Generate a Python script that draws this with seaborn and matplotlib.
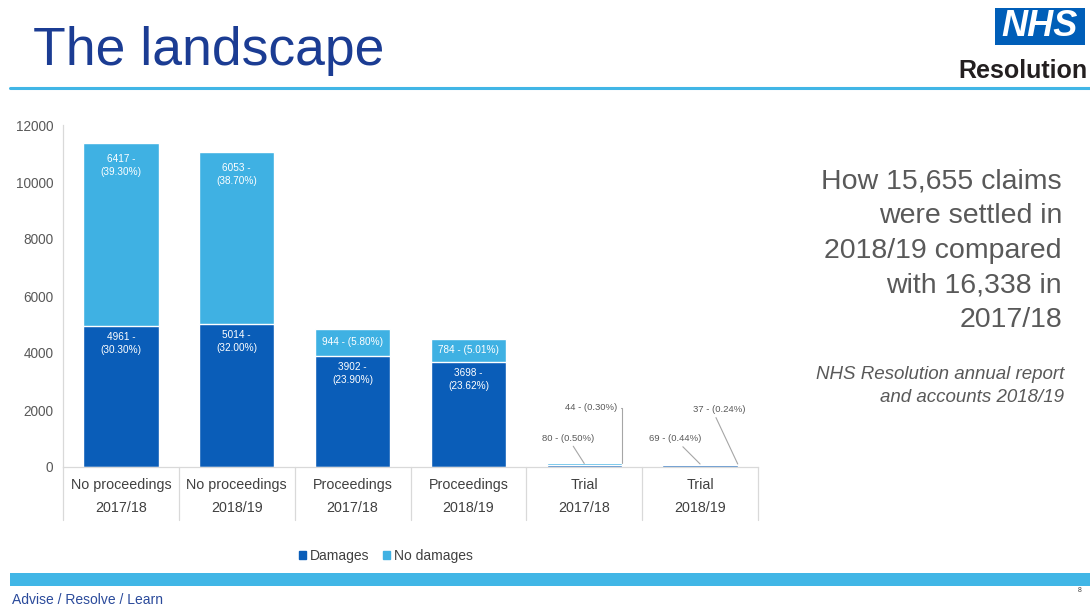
import matplotlib
matplotlib.use("Agg")
import matplotlib.pyplot as plt
from matplotlib.patches import Rectangle, Patch
from matplotlib.lines import Line2D
import numpy as np
import seaborn as sns

# ---------------- data ----------------
categories = ["No proceedings", "No proceedings", "Proceedings", "Proceedings", "Trial", "Trial"]
years = ["2017/18", "2018/19", "2017/18", "2018/19", "2017/18", "2018/19"]
damages = [4961, 5014, 3902, 3698, 80, 69]
no_damages = [6417, 6053, 944, 784, 44, 37]
damages_pct = [30.30, 32.00, 23.90, 23.62, 0.50, 0.44]
no_damages_pct = [39.30, 38.70, 5.80, 5.01, 0.30, 0.24]
y_ticks = [0, 2000, 4000, 6000, 8000, 10000, 12000]

DARK = "#0A5DB8"
LIGHT = "#3FB1E3"
GREY_TXT = "#595959"

sns.set_style("white")
plt.rcParams["font.family"] = ["Liberation Sans", "DejaVu Sans"]

fig = plt.figure(figsize=(10.9, 6.08), dpi=100)
fig.patch.set_facecolor("white")
ax = fig.add_axes([63 / 1090, 141 / 608, 695 / 1090, 342 / 608])

labels = [f"{c}\n{y}" for c, y in zip(categories, years)]
totals = [d + n for d, n in zip(damages, no_damages)]
n = len(labels)

sns.barplot(x=labels, y=totals, color=LIGHT, saturation=1, width=0.65, ax=ax)
sns.barplot(x=labels, y=damages, color=DARK, saturation=1, width=0.65, ax=ax)

ax.set_xlim(-0.5, n - 0.5)
ax.set_ylim(0, 12000)
ax.set_yticks(y_ticks)
ax.set_yticklabels([str(t) for t in y_ticks])
ax.tick_params(axis="y", length=0, pad=7, labelsize=9.8, labelcolor=GREY_TXT)
ax.tick_params(axis="x", length=0, pad=8, labelsize=10.3, labelcolor="#404040")
for t in ax.get_xticklabels():
    t.set_linespacing(1.8)
ax.set_xlabel("")
ax.set_ylabel("")
for s in ["top", "right"]:
    ax.spines[s].set_visible(False)
for s in ["left", "bottom"]:
    ax.spines[s].set_color("#D9D9D9")
    ax.spines[s].set_linewidth(0.9)

# category separators below axis
for b in np.arange(-0.5, n, 1.0):
    ax.plot([b, b], [0, -0.155], transform=ax.get_xaxis_transform(),
            color="#D9D9D9", lw=0.9, clip_on=False)

# bar labels (white, inside bars) for the first four bars
bw = 0.65
LBL = 7.2
for i in range(4):
    ax.annotate(f"{damages[i]} -\n({damages_pct[i]:.2f}%)", xy=(i, damages[i]),
                xytext=(0, -4.5), textcoords="offset points", ha="center", va="top",
                fontsize=LBL, color="white", linespacing=1.35)
    if no_damages[i] > 2000:
        ax.annotate(f"{no_damages[i]} -\n({no_damages_pct[i]:.2f}%)", xy=(i, totals[i]),
                    xytext=(0, -8), textcoords="offset points", ha="center", va="top",
                    fontsize=LBL, color="white", linespacing=1.35)
    else:
        ax.annotate(f"{no_damages[i]} - ({no_damages_pct[i]:.2f}%)",
                    xy=(i, damages[i] + no_damages[i] / 2), ha="center", va="center",
                    fontsize=LBL, color="white")

# Trial labels with leader lines
line_kw = dict(arrowstyle="-", color="#A6A6A6", lw=0.8, shrinkA=0, shrinkB=0)
for i in (4, 5):
    dx = -11.5 if i == 4 else -18
    ax.annotate(f"{damages[i]} - ({damages_pct[i]:.2f}%)", xy=(i, totals[i]),
                xytext=(dx, 18), textcoords="offset points", ha="center", va="center",
                fontsize=LBL - 0.4, color=GREY_TXT, arrowprops=dict(**line_kw))
ax.annotate(f"{no_damages[4]} - ({no_damages_pct[4]:.2f}%)", xy=(4 + bw / 2, totals[4]),
            xytext=(-3, 40), textcoords="offset points", ha="right", va="center",
            fontsize=LBL - 0.4, color=GREY_TXT,
            arrowprops=dict(**line_kw, relpos=(1, 0.5),
                            connectionstyle="angle,angleA=0,angleB=90,rad=0"))
ax.annotate(f"{no_damages[5]} - ({no_damages_pct[5]:.2f}%)", xy=(5 + bw / 2, totals[5]),
            xytext=(-13, 39), textcoords="offset points", ha="center", va="center",
            fontsize=LBL - 0.4, color=GREY_TXT, arrowprops=dict(**line_kw, relpos=(0.4, 0)))

# legend
handles = [Patch(color=DARK, label="Damages"), Patch(color=LIGHT, label="No damages")]
leg = fig.legend(handles=handles, loc="center", bbox_to_anchor=(386 / 1090, 1 - 556 / 608),
                 ncol=2, frameon=False, fontsize=10, handlelength=0.45, handleheight=0.5,
                 handletextpad=0.3, columnspacing=1.0)
for t in leg.get_texts():
    t.set_color("#404040")

# ---------------- slide decoration ----------------
fig.text(33 / 1090, 1 - 65 / 608, "The landscape", fontsize=38.5, color="#1B3C93",
         ha="left", va="baseline")
fig.add_artist(Line2D([10 / 1090, 1], [1 - 88 / 608, 1 - 88 / 608], color="#41B6E6",
                      lw=2.2, transform=fig.transFigure))
# NHS logo
fig.add_artist(Rectangle((995 / 1090, 1 - 45 / 608), 90 / 1090, 37 / 608,
                         facecolor="#005EB8", edgecolor="none", transform=fig.transFigure))
fig.text(1040 / 1090, 1 - 27 / 608, "NHS", fontsize=26, fontweight="bold", fontstyle="italic",
         color="white", ha="center", va="center")
fig.text(1088 / 1090, 1 - 78 / 608, "Resolution", fontsize=18, fontweight="bold",
         color="#231F20", ha="right", va="baseline")

# right-hand text
fig.text(1062 / 1090, 1 - 168 / 608,
         "How 15,655 claims\nwere settled in\n2018/19 compared\nwith 16,338 in\n2017/18",
         fontsize=20.5, color=GREY_TXT, ha="right", va="top", linespacing=1.44,
         multialignment="right")
fig.text(1064 / 1090, 1 - 366 / 608,
         "NHS Resolution annual report\nand accounts 2018/19",
         fontsize=13.5, fontstyle="italic", color=GREY_TXT, ha="right", va="top",
         linespacing=1.5, multialignment="right")

# footer
fig.add_artist(Rectangle((10 / 1090, 1 - 586 / 608), 1 - 10 / 1090, 13 / 608,
                         facecolor="#41B6E6", edgecolor="none", transform=fig.transFigure))
fig.text(12 / 1090, 1 - 600 / 608, "Advise / Resolve / Learn", fontsize=10, color="#2A4A9B",
         ha="left", va="center")
fig.text(1080 / 1090, 1 - 591 / 608, "8", fontsize=5, color="#404040", ha="center",
         va="center")

fig.savefig("out.png", dpi=100, facecolor="white")
